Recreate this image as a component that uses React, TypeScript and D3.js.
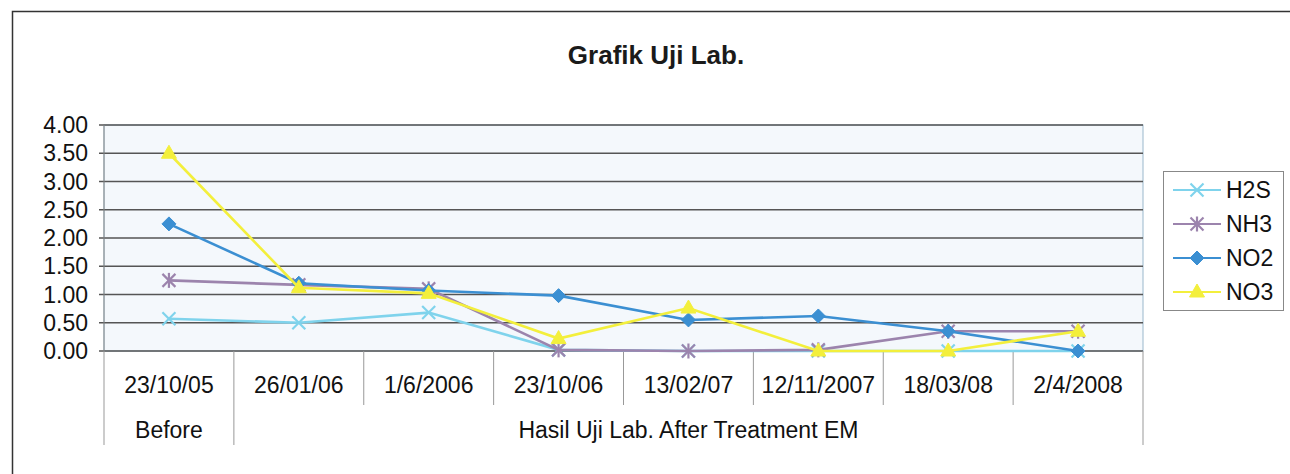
import React from "react";
import * as d3 from "d3";

const categories = ["23/10/05", "26/01/06", "1/6/2006", "23/10/06", "13/02/07", "12/11/2007", "18/03/08", "2/4/2008"];
const groups = [
  { label: "Before", start: 0, end: 1 },
  { label: "Hasil Uji Lab. After Treatment EM", start: 1, end: 8 },
];
const h2s = [0.57, 0.5, 0.68, 0.02, 0.0, 0.0, 0.0, 0.0];
const nh3 = [1.25, 1.17, 1.1, 0.02, 0.0, 0.02, 0.35, 0.35];
const no2 = [2.25, 1.2, 1.07, 0.98, 0.55, 0.62, 0.35, 0.0];
const no3 = [3.5, 1.12, 1.02, 0.22, 0.76, 0.0, 0.0, 0.35];
const yTicks = [0, 0.5, 1, 1.5, 2, 2.5, 3, 3.5, 4];

const series = [
  { name: "H2S", values: h2s, color: "#7fd3ec", marker: "x" },
  { name: "NH3", values: nh3, color: "#9c84ad", marker: "star" },
  { name: "NO2", values: no2, color: "#3b8fd2", marker: "diamond" },
  { name: "NO3", values: no3, color: "#f3ef3c", marker: "triangle" },
];

const FONT = "'Liberation Sans', Arial, sans-serif";

function Marker({ type, x, y, color }: { type: string; x: number; y: number; color: string }) {
  const s = 6.5;
  if (type === "x") {
    return (
      <g stroke={color} strokeWidth={2.2}>
        <line x1={x - s} y1={y - s} x2={x + s} y2={y + s} />
        <line x1={x - s} y1={y + s} x2={x + s} y2={y - s} />
      </g>
    );
  }
  if (type === "star") {
    return (
      <g stroke={color} strokeWidth={2.2}>
        <line x1={x - s} y1={y - s} x2={x + s} y2={y + s} />
        <line x1={x - s} y1={y + s} x2={x + s} y2={y - s} />
        <line x1={x} y1={y - s - 1} x2={x} y2={y + s + 1} />
      </g>
    );
  }
  if (type === "diamond") {
    return <path d={`M${x},${y - 7}L${x + 7},${y}L${x},${y + 7}L${x - 7},${y}Z`} fill={color} stroke={color} />;
  }
  return <path d={`M${x},${y - 8}L${x + 7.5},${y + 5}L${x - 7.5},${y + 5}Z`} fill={color} stroke={color} />;
}

export default function App() {
  const W = 1290, H = 474;
  const left = 104, right = 1143, top = 125, bottom = 351;
  const x = d3.scaleBand<string>().domain(categories).range([left, right]);
  const y = d3.scaleLinear().domain([0, 4]).range([bottom, top]);
  const cx = (c: string) => (x(c) as number) + x.bandwidth() / 2;
  const line = d3.line<number>().x((_, i) => cx(categories[i])).y((d) => y(d));
  const bw = x.bandwidth();

  return (
    <svg width={W} height={H} style={{ position: "absolute", left: 0, top: 0, background: "#fff" }} fontFamily={FONT}>
      <rect x={0} y={0} width={W} height={H} fill="#fff" />
      <rect x={12.5} y={11.5} width={1290} height={470} fill="none" stroke="#333" strokeWidth={1.5} />
      <text x={656} y={64} textAnchor="middle" fontSize={26} fontWeight="bold" fill="#1a1a1a">Grafik Uji Lab.</text>

      <rect x={left} y={top} width={right - left} height={bottom - top} fill="#f4f8fc" stroke="#9ab8cc" />
      {yTicks.map((t) => (
        <g key={t}>
          <line x1={left - 5} x2={right} y1={y(t)} y2={y(t)} stroke="#555" strokeWidth={1.3} />
          <text x={88} y={y(t) + 8} textAnchor="end" fontSize={23} fill="#111">{t.toFixed(2)}</text>
        </g>
      ))}
      <line x1={left} x2={left} y1={top} y2={bottom} stroke="#888" />

      {categories.map((c, i) => {
        const xr = (x(c) as number) + bw;
        const isGroupEdge = groups.some((g) => g.end === i + 1);
        return (
          <g key={c}>
            <line x1={xr} x2={xr} y1={bottom} y2={isGroupEdge ? 445 : 405} stroke="#999" />
            <text x={cx(c)} y={393} textAnchor="middle" fontSize={23} fill="#111">{c}</text>
          </g>
        );
      })}
      <line x1={left} x2={left} y1={bottom} y2={445} stroke="#999" />
      {groups.map((g) => {
        const x0 = x(categories[g.start]) as number;
        const x1 = (x(categories[g.end - 1]) as number) + bw;
        return (
          <text key={g.label} x={(x0 + x1) / 2} y={438} textAnchor="middle" fontSize={23} fill="#111">{g.label}</text>
        );
      })}

      {series.map((s) => (
        <g key={s.name}>
          <path d={line(s.values) as string} fill="none" stroke={s.color} strokeWidth={2.6} />
          {s.values.map((v, i) => (
            <Marker key={i} type={s.marker} x={cx(categories[i])} y={y(v)} color={s.color} />
          ))}
        </g>
      ))}

      <rect x={1163.5} y={171.5} width={120} height={139} fill="#fff" stroke="#888" />
      {series.map((s, i) => {
        const ly = 190 + i * 34;
        return (
          <g key={s.name}>
            <line x1={1173} x2={1221} y1={ly} y2={ly} stroke={s.color} strokeWidth={2} />
            <Marker type={s.marker} x={1197} y={ly} color={s.color} />
            <text x={1226} y={ly + 8} fontSize={23} fill="#111">{s.name}</text>
          </g>
        );
      })}
    </svg>
  );
}
